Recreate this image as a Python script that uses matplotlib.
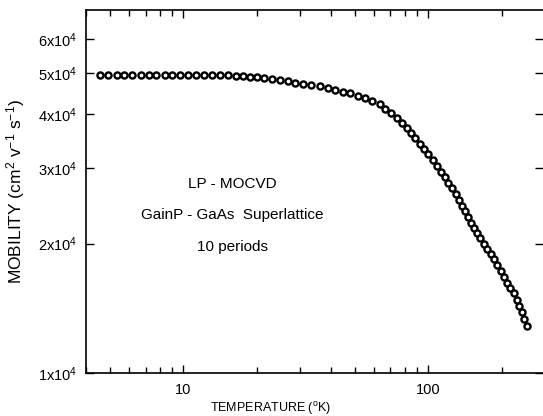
import numpy as np
import matplotlib.pyplot as plt
from matplotlib.ticker import FixedLocator, FixedFormatter, LogLocator, NullFormatter, NullLocator

plt.rcParams['font.family'] = ['Liberation Sans', 'DejaVu Sans']
plt.rcParams['mathtext.default'] = 'regular'

# Temperatura (K) ve mobilite (cm2/Vs)
temperature = [4.58, 4.94, 5.33, 5.74, 6.19, 6.68, 7.20, 7.76, 8.37, 9.02,
               9.72, 10.48, 11.30, 12.18, 13.14, 14.16, 15.27, 16.46, 17.58, 18.77,
               19.99, 21.41, 23.01, 24.88, 26.65, 28.65, 30.81, 33.30, 36.00, 38.82,
               41.73, 44.85, 48.04, 51.45, 55.34, 58.91, 63.28, 66.75, 70.63, 74.37,
               77.95, 81.70, 85.23, 88.49, 92.32, 96.31, 100.0, 104.3, 108.3, 112.5,
               116.8, 120.6, 125.3, 129.5, 133.8, 137.7, 141.6, 145.6, 149.8, 154.1,
               158.5, 163.0, 168.5, 174.1, 179.9, 185.9, 191.2, 197.6, 204.3, 210.1,
               216.1, 223.4, 229.7, 235.2, 241.9, 246.5, 253.5]
mobility = [49490, 49490, 49490, 49490, 49490, 49490, 49490, 49490, 49490, 49490,
            49490, 49490, 49490, 49490, 49490, 49400, 49300, 49230, 49100, 48960,
            48770, 48690, 48350, 47990, 47850, 47410, 47090, 46840, 46490, 46100,
            45680, 45200, 44790, 44240, 43620, 43020, 42330, 41280, 40310, 39250,
            38110, 37110, 36140, 35180, 34170, 33180, 32310, 31290, 30300, 29430,
            28580, 27750, 26950, 26170, 25280, 24480, 23780, 23030, 22360, 21780,
            21200, 20590, 20000, 19420, 18960, 18410, 17880, 17270, 16720, 16240,
            15780, 15320, 14790, 14290, 13840, 13370, 12850]

y_ticks = [1e4, 2e4, 3e4, 4e4, 5e4, 6e4]
y_labels = ['1x10$^4$', '2x10$^4$', '3x10$^4$', '4x10$^4$', '5x10$^4$', '6x10$^4$']
x_ticks = [10, 100]
x_labels = ['10', '100']

fig = plt.figure(figsize=(5.43, 4.16), dpi=100)
ax = fig.add_axes([86 / 543, 43 / 416, 457 / 543, 363 / 416])

ax.plot(temperature, mobility, linestyle='none', marker='o', markersize=4.4,
        markerfacecolor='white', markeredgecolor='black', markeredgewidth=1.7)

ax.set_xscale('log')
ax.set_yscale('log')
ax.set_xlim(4.0, 294)
ax.set_ylim(1e4, 7e4)

ax.xaxis.set_major_locator(FixedLocator(x_ticks))
ax.xaxis.set_major_formatter(FixedFormatter(x_labels))
ax.xaxis.set_minor_locator(LogLocator(base=10, subs=np.arange(2, 10)))
ax.xaxis.set_minor_formatter(NullFormatter())
ax.yaxis.set_major_locator(FixedLocator(y_ticks))
ax.yaxis.set_major_formatter(FixedFormatter(y_labels))
ax.yaxis.set_minor_locator(NullLocator())

ax.tick_params(which='both', direction='in', top=True, right=True, labelsize=10.5, width=1.0)
ax.tick_params(which='major', length=6, pad=6)
ax.tick_params(which='minor', length=4)
ax.tick_params(axis='x', which='major', pad=7)

for s in ['left', 'bottom', 'top']:
    ax.spines[s].set_linewidth(1.2)
ax.spines['right'].set_visible(False)

ax.set_xlabel('TEMPERATURE ($^o$K)', fontsize=9)
ax.xaxis.set_label_coords(0.403, -0.074)
ax.set_ylabel('MOBILITY (cm$^2$ v$^{-1}$ s$^{-1}$)', fontsize=12.5)
ax.yaxis.set_label_coords(-0.13, 0.5)

ax.text(0.32, 0.52, 'LP - MOCVD', transform=ax.transAxes, ha='center', va='center', fontsize=11)
ax.text(0.32, 0.435, 'GainP - GaAs  Superlattice', transform=ax.transAxes, ha='center', va='center', fontsize=11)
ax.text(0.32, 0.347, '10 periods', transform=ax.transAxes, ha='center', va='center', fontsize=11)

plt.savefig('out.png', dpi=100)
